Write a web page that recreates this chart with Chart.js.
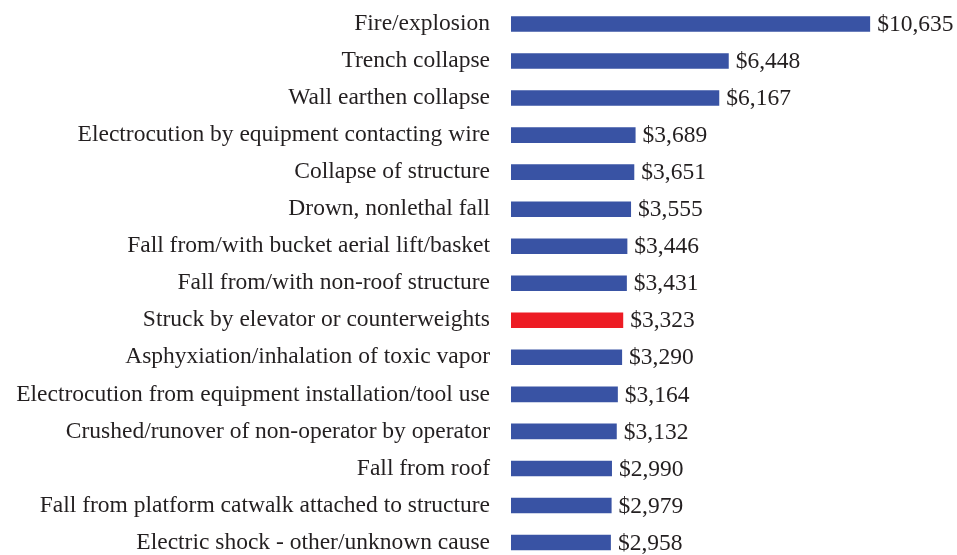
<!DOCTYPE html>
<html>
<head>
<meta charset="utf-8">
<script src="https://cdn.jsdelivr.net/npm/chart.js@4"></script>
<style>
  html, body { margin: 0; padding: 0; background: #fff; overflow: hidden; }
  #wrap { width: 957px; height: 561px; }
</style>
</head>
<body>
<div id="wrap"><canvas id="costChart"></canvas></div>
<script>
// Chart data
const categories = [
    'Fire/explosion',
    'Trench collapse',
    'Wall earthen collapse',
    'Electrocution by equipment contacting wire',
    'Collapse of structure',
    'Drown, nonlethal fall',
    'Fall from/with bucket aerial lift/basket',
    'Fall from/with non-roof structure',
    'Struck by elevator or counterweights',
    'Asphyxiation/inhalation of toxic vapor',
    'Electrocution from equipment installation/tool use',
    'Crushed/runover of non-operator by operator',
    'Fall from roof',
    'Fall from platform catwalk attached to structure',
    'Electric shock - other/unknown cause'
];
const costValues = [10635, 6448, 6167, 3689, 3651, 3555, 3446, 3431, 3323, 3290, 3164, 3132, 2990, 2979, 2958];
const highlightCategory = 'Struck by elevator or counterweights';

const BLUE = '#3953A4';
const RED = '#ED1C24';
const TEXT = '#231F20';
const FONT = "'Liberation Serif', 'Times New Roman', serif";
const FONT_SIZE = 23.5;

const barColors = categories.map(c => c === highlightCategory ? RED : BLUE);

// Draw "$x,xxx" labels after each bar
const valueLabels = {
    id: 'valueLabels',
    afterDatasetsDraw(chart) {
        const ctx = chart.ctx;
        const meta = chart.getDatasetMeta(0);
        ctx.save();
        ctx.font = FONT_SIZE + 'px ' + FONT;
        ctx.fillStyle = TEXT;
        ctx.textAlign = 'left';
        ctx.textBaseline = 'middle';
        meta.data.forEach((bar, i) => {
            ctx.fillText('$' + costValues[i].toLocaleString('en-US'), bar.x + 7, bar.y + 1);
        });
        ctx.restore();
    }
};

new Chart(document.getElementById('costChart'), {
    type: 'bar',
    data: {
        labels: categories,
        datasets: [{
            data: costValues,
            backgroundColor: barColors,
            borderWidth: 0,
            barPercentage: 0.7,
            categoryPercentage: 0.6
        }]
    },
    options: {
        indexAxis: 'y',
        responsive: true,
        maintainAspectRatio: false,
        animation: false,
        layout: { padding: { top: 5.5, bottom: 0, right: 7, left: 0 } },
        plugins: {
            legend: { display: false },
            tooltip: { enabled: false }
        },
        scales: {
            x: {
                min: 0,
                max: 13000,
                display: false,
                grid: { display: false }
            },
            y: {
                grid: { display: false, drawTicks: false },
                border: { display: false },
                ticks: {
                    color: TEXT,
                    padding: 21,
                    font: { family: FONT, size: FONT_SIZE }
                },
                afterFit(scale) {
                    scale.width = 511;
                    scale.paddingTop = 0;
                    scale.paddingBottom = 0;
                }
            }
        }
    },
    plugins: [valueLabels]
});
</script>
</body>
</html>
